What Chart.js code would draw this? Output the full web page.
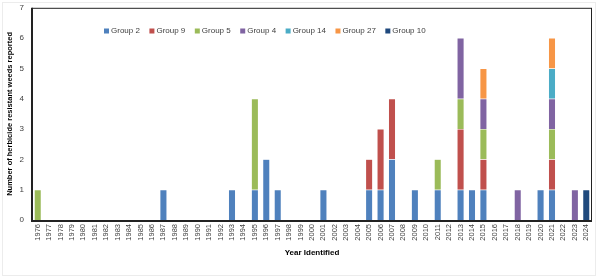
<!DOCTYPE html>
<html>
<head>
<meta charset="utf-8">
<script src="https://cdn.jsdelivr.net/npm/chart.js@4"></script>
<style>
  html, body { margin: 0; padding: 0; background: #fff; }
  #wrap { position: relative; width: 600px; height: 280px; overflow: hidden; }
  #chart { position: absolute; left: 0; top: -5px; display: block; }
  #frame { position: absolute; left: 2px; top: 2px; width: 594px; height: 274px; border: 1px solid #ececec; box-sizing: border-box; pointer-events: none; }
</style>
</head>
<body>
<div id="wrap">
  <canvas id="chart" width="600" height="285"></canvas>
  <div id="frame"></div>
</div>
<script>
var years = [];
for (var y = 1976; y <= 2024; y++) years.push(String(y));

var seriesNames = ["Group 2", "Group 9", "Group 5", "Group 4", "Group 14", "Group 27", "Group 10"];
var seriesColors = ["#4F81BD", "#C0504D", "#9BBB59", "#8064A2", "#4BACC6", "#F79646", "#1F497D"];

// counts per year that has any record, one array per group
var recordYears = ["1976", "1987", "1993", "1995", "1996", "1997", "2001", "2005", "2006", "2007", "2009", "2011", "2013", "2014", "2015", "2018", "2020", "2021", "2023", "2024"];
var group2  = [0, 1, 1, 1, 2, 1, 1, 1, 1, 2, 1, 1, 1, 1, 1, 0, 1, 1, 0, 0];
var group9  = [0, 0, 0, 0, 0, 0, 0, 1, 2, 2, 0, 0, 2, 0, 1, 0, 0, 1, 0, 0];
var group5  = [1, 0, 0, 3, 0, 0, 0, 0, 0, 0, 0, 1, 1, 0, 1, 0, 0, 1, 0, 0];
var group4  = [0, 0, 0, 0, 0, 0, 0, 0, 0, 0, 0, 0, 2, 0, 1, 1, 0, 1, 1, 0];
var group14 = [0, 0, 0, 0, 0, 0, 0, 0, 0, 0, 0, 0, 0, 0, 0, 0, 0, 1, 0, 0];
var group27 = [0, 0, 0, 0, 0, 0, 0, 0, 0, 0, 0, 0, 0, 0, 1, 0, 0, 1, 0, 0];
var group10 = [0, 0, 0, 0, 0, 0, 0, 0, 0, 0, 0, 0, 0, 0, 0, 0, 0, 0, 0, 1];

var yTicks = [0, 1, 2, 3, 4, 5, 6, 7];

function fullYears(arr) {
    return years.map(function (yr) {
        var i = recordYears.indexOf(yr);
        return i < 0 ? 0 : arr[i];
    });
}

var allSeries = [group2, group9, group5, group4, group14, group27, group10];
var datasets = allSeries.map(function (arr, i) {
    return {
        label: seriesNames[i],
        data: fullYears(arr),
        backgroundColor: seriesColors[i],
        borderColor: "rgba(255,255,255,0.35)",
        borderWidth: 0.5,
        barPercentage: 0.62,
        categoryPercentage: 1.0
    };
});

var FONT = "'Liberation Sans', Arial, sans-serif";

// legend drawn inside the plot, Excel style
var insideLegend = {
    id: "insideLegend",
    afterDraw: function (chart) {
        var ctx = chart.ctx;
        ctx.save();
        ctx.font = "8px " + FONT;
        ctx.textBaseline = "middle";
        var x = 104, yMid = 36;
        chart.data.datasets.forEach(function (ds) {
            ctx.fillStyle = ds.backgroundColor;
            ctx.fillRect(x, yMid - 2.5, 5, 5);
            ctx.fillStyle = "#404040";
            ctx.fillText(ds.label, x + 7, yMid);
            x += 7 + ctx.measureText(ds.label).width + 9.5;
        });
        ctx.restore();
    }
};

// dark box round the plot area
var plotBox = {
    id: "plotBox",
    afterDatasetsDraw: function (chart) {
        var a = chart.chartArea, ctx = chart.ctx;
        ctx.save();
        ctx.strokeStyle = "#222";
        ctx.lineWidth = 1;
        ctx.strokeRect(a.left + 0.5, a.top + 0.5, a.right - a.left - 1, a.bottom - a.top);
        ctx.lineWidth = 2;
        ctx.beginPath();
        ctx.moveTo(a.left, a.top);
        ctx.lineTo(a.left, a.bottom + 1);
        ctx.lineTo(a.right, a.bottom + 1);
        ctx.stroke();
        ctx.restore();
    }
};

new Chart(document.getElementById("chart").getContext("2d"), {
    type: "bar",
    data: { labels: years, datasets: datasets },
    options: {
        responsive: false,
        animation: false,
        layout: { padding: { left: 2, right: 8, top: 8, bottom: 22 } },
        plugins: {
            legend: { display: false },
            tooltip: { enabled: false }
        },
        scales: {
            x: {
                stacked: true,
                grid: { display: false, drawTicks: false },
                border: { display: false },
                ticks: {
                    autoSkip: false,
                    maxRotation: 90,
                    minRotation: 90,
                    padding: 4,
                    color: "#404040",
                    font: { family: FONT, size: 7.5 }
                },
                title: {
                    display: true,
                    text: "Year Identified",
                    color: "#000",
                    font: { family: FONT, size: 8, weight: "bold" },
                    padding: { top: 0, bottom: 0 }
                },
                afterFit: function (s) { s.height = 38; }
            },
            y: {
                stacked: true,
                min: 0,
                max: 7,
                grid: { display: false, drawTicks: false },
                border: { display: false },
                afterBuildTicks: function (s) { s.ticks = yTicks.map(function (v) { return { value: v }; }); },
                ticks: {
                    padding: 8,
                    color: "#404040",
                    font: { family: FONT, size: 8 }
                },
                title: {
                    display: true,
                    text: "Number of herbicide resistant weeds reported",
                    color: "#000",
                    font: { family: FONT, size: 7.5, weight: "bold" },
                    padding: { top: 3, bottom: 0 }
                },
                afterFit: function (s) { s.width = 30; }
            }
        }
    },
    plugins: [insideLegend, plotBox]
});
</script>
</body>
</html>
